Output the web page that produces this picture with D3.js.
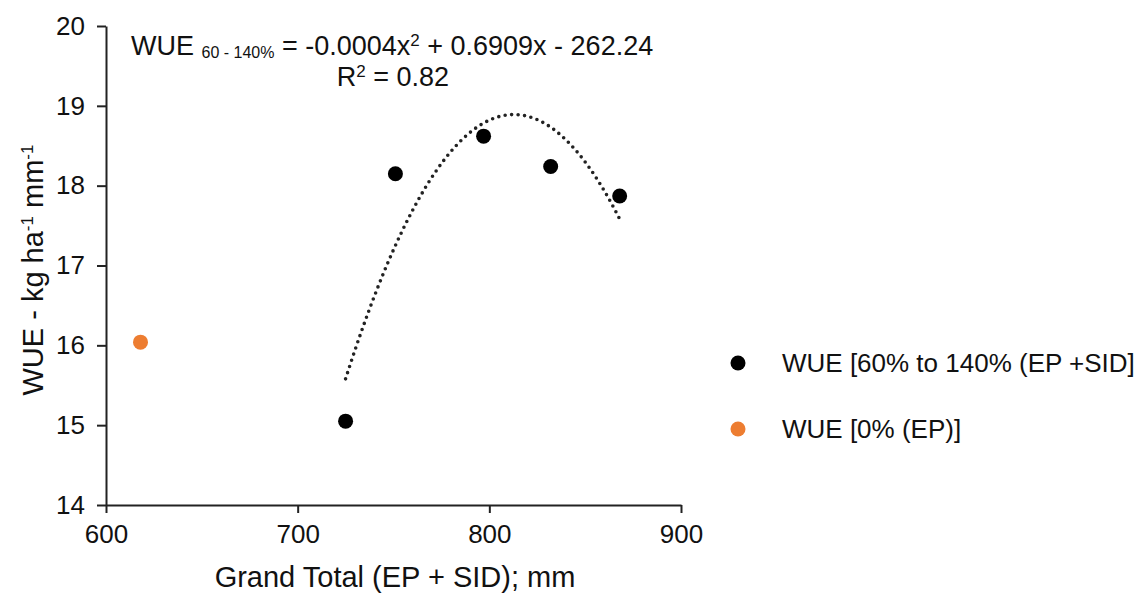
<!DOCTYPE html>
<html>
<head>
<meta charset="utf-8">
<script src="https://cdn.jsdelivr.net/npm/d3@7"></script>
<style>
  body { margin: 0; background: #fff; }
  text { font-family: "Liberation Sans", Arial, sans-serif; fill: #111; }
</style>
</head>
<body>
<div id="chart"></div>
<script>
// values
const irrigX = [725, 751, 797, 832, 868];
const irrigY = [15.05, 18.15, 18.62, 18.24, 17.87];
const rainX = [618];
const rainY = [16.04];
const xTicks = [600, 700, 800, 900];
const yTicks = [14, 15, 16, 17, 18, 19, 20];
const seriesNames = ["WUE [60% to 140% (EP +SID]", "WUE [0% (EP)]"];

const COLORS = ["#000000", "#ED7D31"];
const WIDTH = 1142, HEIGHT = 593;
const FONT = 26;

let svg = d3.select("#chart").append("svg")
  .attr("width", WIDTH).attr("height", HEIGHT);

let x = d3.scaleLinear().domain([600, 900]).range([106, 681]);
let y = d3.scaleLinear().domain([14, 20]).range([505, 26]);

// least squares quadratic, like the spreadsheet trendline
function quadFit(xs, ys) {
  let m = d3.mean(xs);
  let S = [0, 0, 0, 0, 0], T = [0, 0, 0];
  xs.forEach((xv, i) => {
    let u = xv - m;
    for (let k = 0; k < 5; k++) S[k] += Math.pow(u, k);
    for (let k = 0; k < 3; k++) T[k] += ys[i] * Math.pow(u, k);
  });
  // solve [S0 S1 S2; S1 S2 S3; S2 S3 S4] * [c b a] = T
  let A = [[S[0], S[1], S[2], T[0]], [S[1], S[2], S[3], T[1]], [S[2], S[3], S[4], T[2]]];
  for (let i = 0; i < 3; i++) {
    for (let j = i + 1; j < 3; j++) {
      let f = A[j][i] / A[i][i];
      for (let k = i; k < 4; k++) A[j][k] -= f * A[i][k];
    }
  }
  let sol = [0, 0, 0];
  for (let i = 2; i >= 0; i--) {
    let s = A[i][3];
    for (let k = i + 1; k < 3; k++) s -= A[i][k] * sol[k];
    sol[i] = s / A[i][i];
  }
  return xv => sol[0] + sol[1] * (xv - m) + sol[2] * (xv - m) * (xv - m);
}

// axes
let xAxis = svg.append("g")
  .attr("transform", `translate(0,${y(14)})`)
  .call(d3.axisBottom(x).tickValues(xTicks).tickSize(8).tickSizeOuter(0).tickPadding(12));
let yAxis = svg.append("g")
  .attr("transform", `translate(${x(600)},0)`)
  .call(d3.axisLeft(y).tickValues(yTicks).tickFormat(d3.format("d"))
    .tickSize(9).tickSizeOuter(0).tickPadding(12));

[xAxis, yAxis].forEach(g => {
  g.selectAll("path, line").attr("stroke", "#222").attr("stroke-width", 2);
  g.selectAll("text").attr("font-size", FONT).attr("fill", "#111")
    .attr("font-family", "'Liberation Sans', Arial, sans-serif");
});

// trendline
let fit = quadFit(irrigX, irrigY);
let xs = d3.range(d3.min(irrigX), d3.max(irrigX) + 0.5, 1);
svg.append("path")
  .datum(xs)
  .attr("fill", "none")
  .attr("stroke", "#222")
  .attr("stroke-width", 3.6)
  .attr("stroke-linecap", "round")
  .attr("stroke-dasharray", "0,6.5")
  .attr("d", d3.line().x(d => x(d)).y(d => y(fit(d))));

// points
svg.append("g").selectAll("circle")
  .data(irrigX.map((d, i) => [d, irrigY[i]]))
  .enter().append("circle")
    .attr("cx", d => x(d[0])).attr("cy", d => y(d[1]))
    .attr("r", 7.5).attr("fill", COLORS[0]);
svg.append("g").selectAll("circle")
  .data(rainX.map((d, i) => [d, rainY[i]]))
  .enter().append("circle")
    .attr("cx", d => x(d[0])).attr("cy", d => y(d[1]))
    .attr("r", 7.5).attr("fill", COLORS[1]);

// equation
let eq = svg.append("text").attr("x", 131).attr("y", 55).attr("font-size", 27);
eq.append("tspan").text("WUE ");
eq.append("tspan").text("60 - 140%").attr("font-size", 16).attr("dy", 3);
eq.append("tspan").text("  = -0.0004x").attr("dy", -3);
eq.append("tspan").text("2").attr("font-size", 17).attr("dy", -9);
eq.append("tspan").text(" + 0.6909x - 262.24").attr("dy", 9);

let r2 = svg.append("text").attr("x", 393).attr("y", 86)
  .attr("font-size", 27).attr("text-anchor", "middle");
r2.append("tspan").text("R");
r2.append("tspan").text("2").attr("font-size", 17).attr("dy", -9);
r2.append("tspan").text(" = 0.82").attr("dy", 9);

// axis titles
svg.append("text")
  .attr("x", 395).attr("y", 587)
  .attr("text-anchor", "middle").attr("font-size", 29)
  .text("Grand Total (EP + SID); mm");

let yt = svg.append("text")
  .attr("transform", "translate(43,270) rotate(-90)")
  .attr("text-anchor", "middle").attr("font-size", 29);
yt.append("tspan").text("WUE - kg ha");
yt.append("tspan").text("-1").attr("font-size", 17).attr("dy", -10);
yt.append("tspan").text(" mm").attr("dy", 10);
yt.append("tspan").text("-1").attr("font-size", 17).attr("dy", -10);

// legend
let legend = svg.append("g").selectAll("g")
  .data(seriesNames).enter().append("g")
    .attr("transform", (d, i) => `translate(738,${363 + i * 66})`);
legend.append("circle").attr("r", 7.5).attr("fill", (d, i) => COLORS[i]);
legend.append("text").attr("x", 44).attr("y", 9)
  .attr("font-size", FONT).text(d => d);
</script>
</body>
</html>
